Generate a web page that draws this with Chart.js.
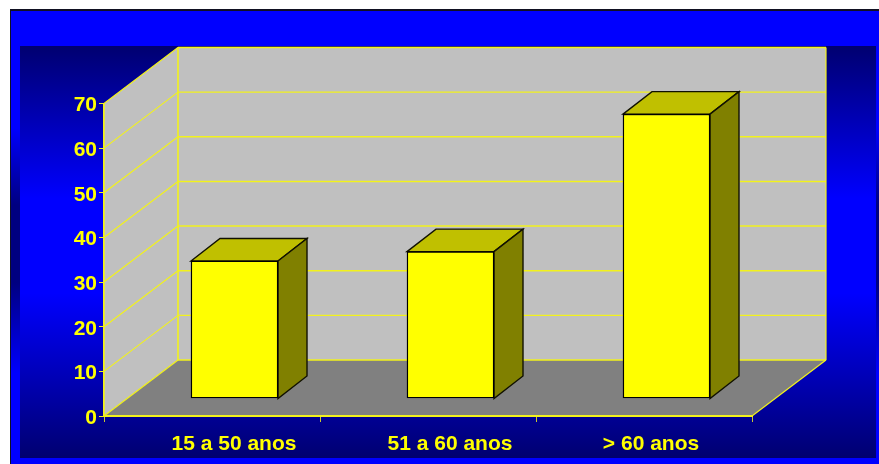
<!DOCTYPE html>
<html>
<head>
<meta charset="utf-8">
<title>Faixa etária</title>
<script src="https://cdn.jsdelivr.net/npm/chart.js@4"></script>
<style>
    html, body { margin: 0; padding: 0; background: #fff; }
    canvas { display: block; }
</style>
</head>
<body>
<canvas id="ageChart" width="879" height="464"></canvas>
<script>
const categories = ['15 a 50 anos', '51 a 60 anos', '> 60 anos'];
const values = [30.8, 32.9, 63.7];
const yTicks = [0, 10, 20, 30, 40, 50, 60, 70];

const YELLOW = '#ffff00';
const LINE = '#f2f21c';

// depth of the box behind the axes, and of each bar
const WALL_DX = 74, WALL_DY = -56;
const BAR_SHIFT_X = 22.5, BAR_SHIFT_Y = -17.5;
const BAR_DX = 29, BAR_DY = -22.5;
const LABEL_SHIFT = [22, 22, 7];

function poly(ctx, pts, fill, stroke, width) {
    ctx.beginPath();
    pts.forEach((p, i) => i ? ctx.lineTo(p[0], p[1]) : ctx.moveTo(p[0], p[1]));
    ctx.closePath();
    if (fill) { ctx.fillStyle = fill; ctx.fill(); }
    if (stroke) { ctx.strokeStyle = stroke; ctx.lineWidth = width || 1; ctx.stroke(); }
}

function segment(ctx, x1, y1, x2, y2, color, width) {
    ctx.beginPath();
    ctx.moveTo(x1, y1);
    ctx.lineTo(x2, y2);
    ctx.strokeStyle = color;
    ctx.lineWidth = width;
    ctx.stroke();
}

const backdrop = {
    id: 'backdrop',
    beforeDraw(chart) {
        const ctx = chart.ctx;
        ctx.save();

        // frame: bright at top and bottom, dark around the middle
        const outer = ctx.createLinearGradient(0, 10, 0, 464);
        outer.addColorStop(0, '#0000ff');
        outer.addColorStop(0.26, '#0000ff');
        outer.addColorStop(0.43, '#000080');
        outer.addColorStop(0.6, '#000080');
        outer.addColorStop(0.8, '#0000ff');
        outer.addColorStop(1, '#0000ff');
        ctx.fillStyle = '#111122';
        ctx.fillRect(10, 9, 869, 455);
        ctx.fillStyle = outer;
        ctx.fillRect(11, 11, 868, 453);

        // inner panel runs the other way
        const inner = ctx.createLinearGradient(0, 46, 0, 458);
        inner.addColorStop(0, '#000070');
        inner.addColorStop(0.37, '#0000ff');
        inner.addColorStop(0.6, '#0000ff');
        inner.addColorStop(1, '#000070');
        ctx.fillStyle = inner;
        ctx.fillRect(20, 46, 856, 412);

        // side wall, back wall and floor of the box
        const { left, right, bottom } = chart.chartArea;
        const y = chart.scales.y;
        const top = y.getPixelForValue(yTicks[yTicks.length - 1]);
        const bl = left + WALL_DX, br = right + WALL_DX;
        const by = bottom + WALL_DY, tb = top + WALL_DY;
        poly(ctx, [[left, bottom], [bl, by], [bl, tb], [left, top]], '#c0c0c0');
        poly(ctx, [[bl, by], [br, by], [br, tb], [bl, tb]], '#c0c0c0');
        poly(ctx, [[left, bottom], [right, bottom], [br, by], [bl, by]], '#808080');

        // grid lines on both walls
        yTicks.forEach(t => {
            if (t === 0) return;
            const py = y.getPixelForValue(t);
            segment(ctx, left, py, bl, py + WALL_DY, LINE, 1.2);
            segment(ctx, bl, py + WALL_DY, br, py + WALL_DY, LINE, 1.4);
        });
        segment(ctx, bl, by, bl, tb, LINE, 1.6);
        segment(ctx, br, by, br, tb, LINE, 1.2);
        segment(ctx, bl, by, br, by, LINE, 1.6);
        segment(ctx, left, bottom, bl, by, LINE, 1.4);
        segment(ctx, right, bottom, br, by, LINE, 1.2);
        ctx.restore();
    }
};

const barDepth = {
    id: 'barDepth',
    beforeDatasetsDraw(chart) {
        const ctx = chart.ctx;
        const base = chart.scales.y.getPixelForValue(0) + BAR_SHIFT_Y;
        ctx.save();
        chart.getDatasetMeta(0).data.forEach(bar => {
            const x1 = bar.x - bar.width / 2 + BAR_SHIFT_X;
            const x2 = bar.x + bar.width / 2 + BAR_SHIFT_X;
            const t = bar.y + BAR_SHIFT_Y;
            poly(ctx, [[x1, t], [x2, t], [x2 + BAR_DX, t + BAR_DY], [x1 + BAR_DX, t + BAR_DY]], '#c0c000', '#111100', 1.4);
            poly(ctx, [[x2, t], [x2 + BAR_DX, t + BAR_DY], [x2 + BAR_DX, base + BAR_DY], [x2, base]], '#808000', '#111100', 1.4);
        });
        // front faces are drawn by the bar controller, moved into the box
        ctx.translate(BAR_SHIFT_X, BAR_SHIFT_Y);
    },
    afterDatasetsDraw(chart) {
        chart.ctx.restore();
    }
};

const categoryLabels = {
    id: 'categoryLabels',
    afterDraw(chart) {
        const ctx = chart.ctx;
        const x = chart.scales.x;
        ctx.save();
        ctx.font = 'bold 21px "Liberation Sans"';
        ctx.fillStyle = YELLOW;
        ctx.textAlign = 'center';
        ctx.textBaseline = 'alphabetic';
        categories.forEach((c, i) => {
            ctx.fillText(c, x.getPixelForTick(i) + LABEL_SHIFT[i], 450);
        });
        ctx.restore();
    }
};

new Chart(document.getElementById('ageChart').getContext('2d'), {
    type: 'bar',
    data: {
        labels: categories,
        datasets: [{
            data: values,
            backgroundColor: YELLOW,
            borderColor: '#000000',
            borderWidth: 1.4,
            borderSkipped: false,
            barThickness: 87,
            clip: false
        }]
    },
    options: {
        responsive: false,
        animation: false,
        layout: {
            autoPadding: false,
            padding: { left: 0, top: 103.5, right: 127, bottom: 0 }
        },
        plugins: {
            legend: { display: false },
            tooltip: { enabled: false }
        },
        scales: {
            x: {
                afterFit: scale => { scale.height = 48; },
                grid: { drawOnChartArea: false, color: '#c8c830', lineWidth: 1, tickLength: 6 },
                border: { color: LINE, width: 2 },
                ticks: { display: false }
            },
            y: {
                min: 0,
                max: 70,
                afterFit: scale => { scale.width = 104; },
                afterBuildTicks: scale => { scale.ticks = yTicks.map(v => ({ value: v })); },
                grid: { drawOnChartArea: false, color: LINE, lineWidth: 1, tickLength: 5 },
                border: { color: LINE, width: 1.8 },
                ticks: {
                    color: YELLOW,
                    padding: 2,
                    labelOffset: 2,
                    font: { family: '"Liberation Sans"', size: 21, weight: 'bold' }
                }
            }
        }
    },
    plugins: [backdrop, barDepth, categoryLabels]
});
</script>
</body>
</html>
